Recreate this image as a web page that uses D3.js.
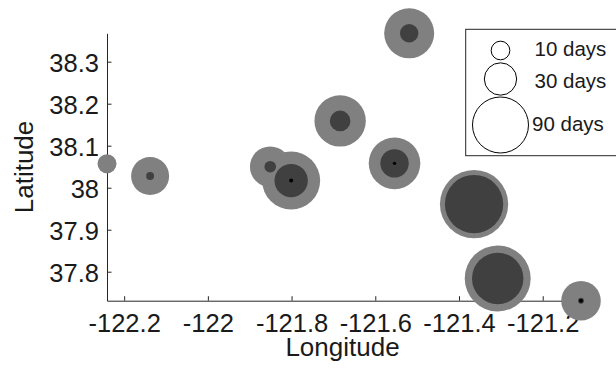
<!DOCTYPE html>
<html lang="en">
<head>
    <meta charset="UTF-8">
    <title>Bubble Map</title>
    <script src="https://d3js.org/d3.v7.min.js"></script>
    <style>
        body { margin: 0; background: #fff; }
        svg { display: block; font-family: "Liberation Sans", Arial, sans-serif; }
        .axis path, .axis line { stroke: #262626; stroke-width: 1; }
        .axis text { fill: #1a1a1a; font-size: 25.5px; font-family: "Liberation Sans", Arial, sans-serif; }
        .label { fill: #1a1a1a; font-size: 26px; }
        .legend text { fill: #1a1a1a; font-size: 20.5px; }
    </style>
</head>
<body>
    <svg width="616" height="373"></svg>
    <script>
        // site coordinates
        const lon = [-122.241, -122.138, -121.851, -121.801, -121.684, -121.554, -121.519, -121.364, -121.3075, -121.1085];
        const lat = [38.057, 38.028, 38.050, 38.017, 38.159, 38.058, 38.3676, 37.961, 37.784, 37.731];
        // durations (days) for the three nested rings
        const outerDays = [10.4, 41.5, 47.4, 96.6, 75.9, 76.5, 71.8, 134, 125, 45];
        const middleDays = [0, 1.8, 3.9, 32, 12.2, 23.2, 9.7, 98, 76, 1];
        const innerDays = [0, 0, 0, 0.46, 0, 0.33, 0, 0, 0, 0.46];

        const xTicks = [-122.2, -122, -121.8, -121.6, -121.4, -121.2];
        const yTicks = [37.8, 37.9, 38, 38.1, 38.2, 38.3];
        const legendDays = [10, 30, 90];
        const legendLabels = ["10 days", "30 days", "90 days"];

        const svg = d3.select("svg");
        const plot = {left: 107, right: 581, top: 33.3, bottom: 300.7};

        const x = d3.scaleLinear().domain(d3.extent(lon)).range([plot.left, plot.right]);
        const y = d3.scaleLinear().domain(d3.extent(lat)).range([plot.bottom, plot.top]);
        const r = d3.scaleSqrt().domain([0, 100]).range([0, 29.5]);

        const fmt = d => String(+d.toFixed(1));

        svg.append("g")
            .attr("class", "axis")
            .attr("transform", `translate(0,${plot.bottom})`)
            .call(d3.axisBottom(x).tickValues(xTicks).tickFormat(fmt).tickSizeInner(-4.5).tickSizeOuter(0).tickPadding(13))
            .call(g => g.attr("font-family", null).attr("font-size", null))
            .call(g => g.selectAll("text").attr("dy", "0.71em"));

        svg.append("g")
            .attr("class", "axis")
            .attr("transform", `translate(${plot.left},0)`)
            .call(d3.axisLeft(y).tickValues(yTicks).tickFormat(fmt).tickSizeInner(-4.5).tickSizeOuter(0).tickPadding(8))
            .call(g => g.attr("font-family", null).attr("font-size", null))
            .call(g => g.selectAll("text").attr("dy", "0.38em"));

        svg.selectAll(".axis .domain").attr("fill", "none");

        const sites = lon.map((d, i) => ({lon: d, lat: lat[i], outer: outerDays[i], middle: middleDays[i], inner: innerDays[i]}));

        const layers = [
            {key: "outer", color: "#808080"},
            {key: "middle", color: "#404040"},
            {key: "inner", color: "#000000"}
        ];

        layers.forEach(layer => {
            svg.append("g")
                .selectAll("circle")
                .data(sites.filter(d => d[layer.key] > 0))
                .join("circle")
                .attr("cx", d => x(d.lon))
                .attr("cy", d => y(d.lat))
                .attr("r", d => r(d[layer.key]))
                .attr("fill", layer.color);
        });

        // axis titles
        svg.append("text")
            .attr("class", "label")
            .attr("x", (plot.left + plot.right) / 2 - 1.5)
            .attr("y", 355.5)
            .attr("text-anchor", "middle")
            .text("Longitude");

        svg.append("text")
            .attr("class", "label")
            .attr("transform", `translate(33,${(plot.top + plot.bottom) / 2}) rotate(-90)`)
            .attr("text-anchor", "middle")
            .text("Latitude");

        // legend
        const legend = svg.append("g").attr("class", "legend");
        legend.append("rect")
            .attr("x", 465.7).attr("y", 29.3)
            .attr("width", 170).attr("height", 126.4)
            .attr("fill", "#fff").attr("stroke", "#262626").attr("stroke-width", 1);

        const legendY = [50.5, 79, 125];
        const legendBase = [56, 88.3, 130.7];
        legendDays.forEach((d, i) => {
            legend.append("circle")
                .attr("cx", 500.5)
                .attr("cy", legendY[i])
                .attr("r", r(d))
                .attr("fill", "none")
                .attr("stroke", "#000")
                .attr("stroke-width", 1);
            legend.append("text")
                .attr("x", i === 2 ? 532 : 534.5)
                .attr("y", legendBase[i])
                .text(legendLabels[i]);
        });
    </script>
</body>
</html>
